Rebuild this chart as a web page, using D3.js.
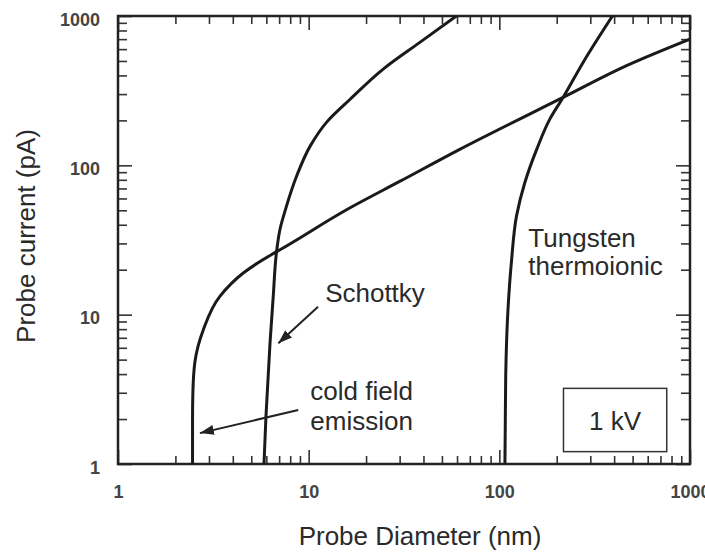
<!DOCTYPE html>
<html>
<head>
<meta charset="utf-8">
<script src="https://cdn.jsdelivr.net/npm/d3@7"></script>
<style>
body { margin: 0; background: #fff; }
svg text { font-family: "Liberation Sans", Arial, sans-serif; }
</style>
</head>
<body>
<script>
// values: probe diameter (nm) / probe current (pA)
var coldFieldD = [2.46, 2.46, 2.47, 2.53, 2.8, 3.43, 4.54, 6.4, 7.0, 16.5, 30, 62, 216, 484, 1000];
var coldFieldI = [1, 2, 3, 4.8, 7.9, 13.3, 19, 25.3, 27, 52, 78, 128, 285, 476, 700];

var schottkyD = [5.83, 5.97, 6.27, 6.52, 6.79, 7.07, 7.56, 8.65, 10.2, 12.4, 16.5, 24.6, 38.3, 59.5];
var schottkyI = [1, 2.08, 6.45, 13.3, 26.6, 37.2, 50.7, 84.8, 135, 194, 277, 441, 666, 1000];

var tungstenD = [107, 107.5, 108, 111, 116, 123, 136, 157, 184, 216, 275, 392];
var tungstenI = [1, 2, 3.85, 10.8, 23.4, 45.7, 76.5, 128, 204, 285, 489, 1000];

var xTicks = [1, 10, 100, 1000];
var yTicks = [1, 10, 100, 1000];

var w = 705, h = 557;
var padL = 118, padR = 690, padT = 16, padB = 464;

var svg = d3.select("body").append("svg")
	.attr("width", w)
	.attr("height", h);

var x = d3.scaleLog().domain([1, 1000]).range([padL, padR]);
var y = d3.scaleLog().domain([1, 1000]).range([padB, padT]);

// minor ticks 2..9 in every decade
function minors(majors) {
	var out = [];
	for (var i = 0; i < majors.length - 1; i++) {
		for (var m = 2; m < 10; m++) out.push(majors[i] * m);
	}
	return out;
}
var xMinor = minors(xTicks);
var yMinor = minors(yTicks);

function drawAxis(axis, tx, ty) {
	var g = svg.append("g")
		.attr("transform", "translate(" + tx + "," + ty + ")")
		.call(axis);
	g.select(".domain").remove();
	g.selectAll("line").attr("stroke", "#333").attr("stroke-width", 1.6);
	g.selectAll("text")
		.attr("font-family", "Liberation Sans, Arial, sans-serif")
		.attr("font-size", 18)
		.attr("font-weight", "bold")
		.attr("fill", "#444");
	return g;
}

// ticks point inward on all four sides
drawAxis(d3.axisBottom(x).tickValues(xMinor).tickSize(-8).tickFormat(""), 0, padB);
drawAxis(d3.axisBottom(x).tickValues(xTicks).tickSize(-14).tickPadding(21).tickFormat(d3.format("d")), 0, padB);
drawAxis(d3.axisTop(x).tickValues(xMinor).tickSize(-8).tickFormat(""), 0, padT);
drawAxis(d3.axisTop(x).tickValues(xTicks).tickSize(-14).tickFormat(""), 0, padT);
drawAxis(d3.axisLeft(y).tickValues(yMinor).tickSize(-9).tickFormat(""), padL, 0);
drawAxis(d3.axisLeft(y).tickValues(yTicks).tickSize(-14).tickPadding(18).tickFormat(d3.format("d")), padL, 0)
	.selectAll("text").attr("dy", "0.5em");
drawAxis(d3.axisRight(y).tickValues(yMinor).tickSize(-9).tickFormat(""), padR, 0);
drawAxis(d3.axisRight(y).tickValues(yTicks).tickSize(-14).tickFormat(""), padR, 0);

svg.append("rect")
	.attr("x", padL).attr("y", padT)
	.attr("width", padR - padL).attr("height", padB - padT)
	.attr("fill", "none")
	.attr("stroke", "#222")
	.attr("stroke-width", 2.5);

svg.append("clipPath").attr("id", "plot")
	.append("rect")
	.attr("x", padL).attr("y", padT)
	.attr("width", padR - padL).attr("height", padB - padT);

// x is a monotone function of y for every curve, so smooth along y
var line = d3.line()
	.x(function(d) { return x(d[0]); })
	.y(function(d) { return y(d[1]); })
	.curve(d3.curveMonotoneY);

var curves = [
	d3.zip(coldFieldD, coldFieldI).reverse(),
	d3.zip(schottkyD, schottkyI).reverse(),
	d3.zip(tungstenD, tungstenI).reverse()
];

svg.append("g").attr("clip-path", "url(#plot)")
	.selectAll("path")
	.data(curves)
	.enter()
		.append("path")
		.attr("d", line)
		.attr("fill", "none")
		.attr("stroke", "#1a1a1a")
		.attr("stroke-width", 3);

// arrows
svg.append("defs").append("marker")
	.attr("id", "head")
	.attr("markerUnits", "userSpaceOnUse")
	.attr("markerWidth", 14).attr("markerHeight", 10)
	.attr("refX", 14).attr("refY", 5)
	.attr("orient", "auto")
	.append("path")
	.attr("d", "M0,0 L14,5 L0,10 z")
	.attr("fill", "#222");

var arrows = [
	[[11.2, 11.3], [6.93, 6.43]],
	[[8.82, 2.30], [2.69, 1.61]]
];
svg.selectAll(".arrow")
	.data(arrows)
	.enter()
		.append("line")
		.attr("class", "arrow")
		.attr("x1", function(d) { return x(d[0][0]); })
		.attr("y1", function(d) { return y(d[0][1]); })
		.attr("x2", function(d) { return x(d[1][0]); })
		.attr("y2", function(d) { return y(d[1][1]); })
		.attr("stroke", "#222")
		.attr("stroke-width", 2)
		.attr("marker-end", "url(#head)");

// curve labels
var labelSize = 26;
function label(txt, dx, dy) {
	svg.append("text")
		.attr("x", x(dx)).attr("y", y(dy))
		.attr("font-size", labelSize)
		.attr("fill", "#2a2a2a")
		.text(txt);
}
label("Schottky", 12.2, 12.2);
label("cold field", 10.2, 2.68);
label("emission", 10.2, 1.69);
label("Tungsten", 142, 28.5);
label("thermoionic", 142, 18.4);

// 1 kV box
svg.append("rect")
	.attr("x", x(217)).attr("y", y(3.21))
	.attr("width", x(755) - x(217))
	.attr("height", y(1.21) - y(3.21))
	.attr("fill", "#fff")
	.attr("stroke", "#333")
	.attr("stroke-width", 1.5);
svg.append("text")
	.attr("x", (x(217) + x(755)) / 2)
	.attr("y", y(1.69))
	.attr("text-anchor", "middle")
	.attr("font-size", labelSize)
	.attr("fill", "#2a2a2a")
	.text("1 kV");

// axis titles
svg.append("text")
	.attr("x", (padL + padR) / 2 + 16)
	.attr("y", 545)
	.attr("text-anchor", "middle")
	.attr("font-size", labelSize)
	.attr("fill", "#2a2a2a")
	.text("Probe Diameter (nm)");

svg.append("text")
	.attr("transform", "translate(35,236) rotate(-90)")
	.attr("text-anchor", "middle")
	.attr("font-size", labelSize)
	.attr("fill", "#2a2a2a")
	.text("Probe current (pA)");
</script>
</body>
</html>
